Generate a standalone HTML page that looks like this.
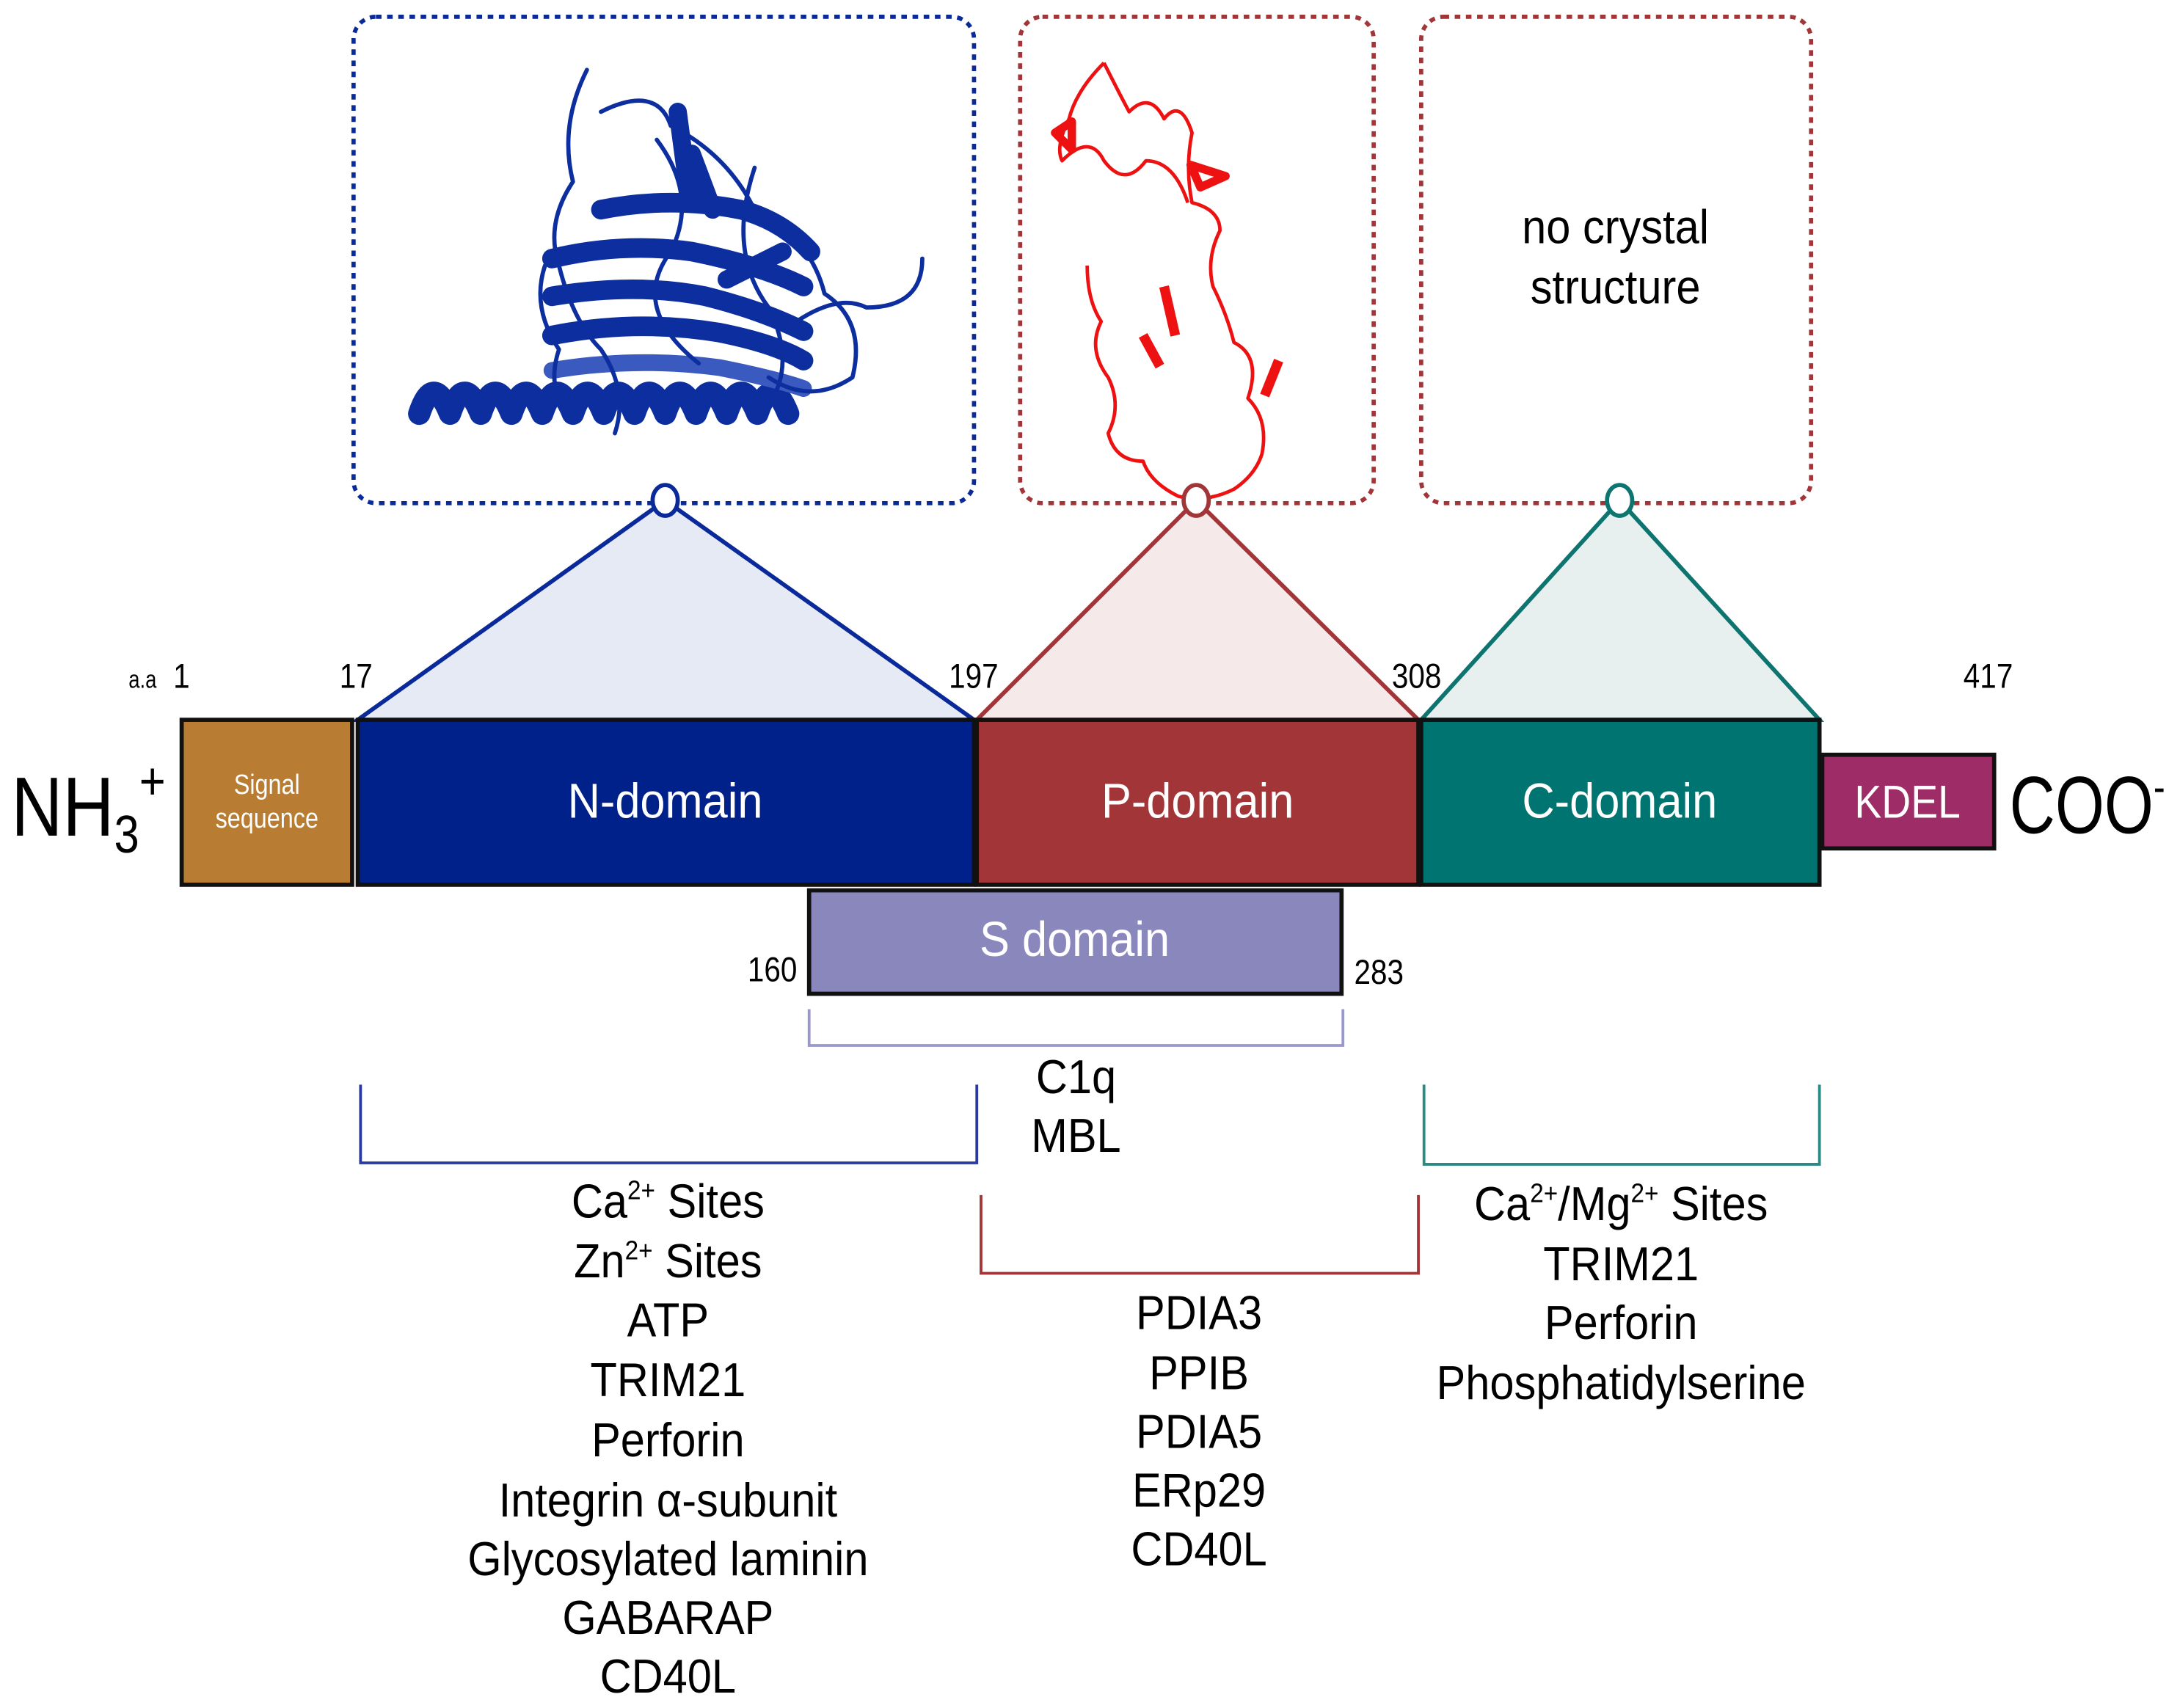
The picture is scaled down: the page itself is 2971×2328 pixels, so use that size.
<!DOCTYPE html>
<html><head><meta charset="utf-8"><style>
html,body{margin:0;padding:0;background:#fff;}
svg{display:block}
text{font-family:"Liberation Sans Narrow","Liberation Sans",sans-serif;}
</style></head><body>
<svg width="2971" height="2328" viewBox="0 0 1560 1222" preserveAspectRatio="none" xmlns="http://www.w3.org/2000/svg">
<rect width="1560" height="1222" fill="#fff"/>
<rect x="253" y="12" width="444" height="348" rx="16" fill="none" stroke="#0a2a9a" stroke-width="3" stroke-dasharray="4 4"/>
<rect x="730" y="12" width="253" height="348" rx="16" fill="none" stroke="#a23538" stroke-width="3" stroke-dasharray="4 4"/>
<rect x="1017" y="12" width="279" height="348" rx="16" fill="none" stroke="#a23538" stroke-width="3" stroke-dasharray="4 4"/>
<g transform="translate(1156,174) scale(0.92,1)"><text font-size="34" text-anchor="middle">no crystal</text></g>
<g transform="translate(1156,217) scale(0.92,1)"><text font-size="34" text-anchor="middle">structure</text></g>
<g fill="none" stroke="#0c2e9e" stroke-linecap="round" stroke-linejoin="round">
<path d="M300 296 q10 -30 22 0 q10 -30 22 0 q10 -30 22 0 q10 -30 22 0 q10 -30 22 0 q10 -30 22 0 q10 -30 22 0 q10 -30 22 0 q10 -30 22 0 q10 -30 22 0 q10 -30 22 0 q10 -30 22 0" stroke-width="16"/>
<path d="M395 185 q50 -12 100 -5 q50 10 80 25" stroke-width="14"/>
<path d="M395 212 q60 -10 110 0 q40 10 70 25" stroke-width="14"/>
<path d="M395 240 q60 -12 120 -2 q40 8 60 20" stroke-width="14"/>
<path d="M395 265 q60 -10 120 -2 q40 8 60 15" stroke-width="12" stroke="#3a5ac0"/>
<path d="M430 150 q50 -10 100 0 q30 8 50 30" stroke-width="14"/>
<path d="M485 80 l8 60 M495 110 l15 40 M520 200 l40 -20" stroke-width="13"/>
<path d="M420 50 q-20 40 -10 80 q-20 30 -10 60 q10 40 30 60 q20 30 10 60" stroke-width="3"/>
<path d="M430 80 q40 -20 50 10 q40 20 60 60 q40 20 50 60 q30 20 20 60 q-30 20 -60 0" stroke-width="3"/>
<path d="M390 190 q-10 30 10 60 q-10 30 10 50 M570 230 q30 -20 50 -10 q40 0 40 -35" stroke-width="3"/>
<path d="M470 100 q30 40 10 80 q-30 40 20 80 M540 120 q-20 60 10 100 q20 40 0 70" stroke-width="3"/>
</g>
<g fill="none" stroke="#ee1111" stroke-width="2.5" stroke-linejoin="round">
<path d="M790 45 q10 20 18 35 q15 -15 25 5 q12 -15 20 10 q-5 25 0 50 q20 5 20 20 q-10 20 -5 40 q10 20 15 40 q20 10 10 40 q15 15 10 40 q-5 15 -20 25 q-20 10 -40 5 q-20 -10 -25 -25 q-20 0 -25 -20 q10 -20 0 -40 q-15 -20 -5 -40 q-10 -15 -10 -40"/>
<path d="M790 45 q-20 20 -25 40 q-10 20 -5 30 q20 -20 30 0 q15 20 30 0 q20 0 30 30"/>
<path d="M755 95 l12 -8 l0 20 z M852 118 l25 8 l-18 8 z" stroke-width="6"/>
<path d="M833 205 l8 35 M818 240 l12 22 M915 258 l-10 25" stroke-width="7"/>
</g>
<polygon points="476,358 256,515 697,515" fill="#e6eaf4" stroke="#0a2a9a" stroke-width="3"/>
<polygon points="856,358 699,515 1015,515" fill="#f6e9e9" stroke="#a23538" stroke-width="3"/>
<polygon points="1159,358 1017,515 1302,515" fill="#e7f0ef" stroke="#0d7470" stroke-width="3"/>
<ellipse cx="476" cy="358" rx="9" ry="11" fill="#fff" stroke="#0a2a9a" stroke-width="3"/>
<ellipse cx="856" cy="358" rx="9" ry="11" fill="#fff" stroke="#a23538" stroke-width="3"/>
<ellipse cx="1159" cy="358" rx="9" ry="11" fill="#fff" stroke="#0d7470" stroke-width="3"/>
<g stroke="#111" stroke-width="3">
<rect x="130" y="515" width="122" height="118" fill="#b87d32"/>
<rect x="256" y="515" width="441" height="118" fill="#00208a"/>
<rect x="699" y="515" width="316" height="118" fill="#a23538"/>
<rect x="1017" y="515" width="285" height="118" fill="#007471"/>
<rect x="1304" y="540" width="123" height="67" fill="#9e2c66"/>
<rect x="579" y="637" width="381" height="74" fill="#8a87bc"/>
</g>
<g fill="#fff" text-anchor="middle">
<g transform="translate(191,568) scale(0.85,1)"><text font-size="20">Signal</text></g>
<g transform="translate(191,592) scale(0.85,1)"><text font-size="20">sequence</text></g>
<g transform="translate(476,585) scale(0.92,1)"><text font-size="35">N-domain</text></g>
<g transform="translate(857,585) scale(0.92,1)"><text font-size="35">P-domain</text></g>
<g transform="translate(1159,585) scale(0.92,1)"><text font-size="35">C-domain</text></g>
<g transform="translate(1365,585) scale(0.88,1)"><text font-size="33">KDEL</text></g>
<g transform="translate(769,684) scale(0.92,1)"><text font-size="35">S domain</text></g>
</g>
<g transform="translate(8,598) scale(0.85,1)"><text font-size="60">NH<tspan font-size="38" dy="12">3</tspan><tspan font-size="38" dy="-38">+</tspan></text></g>
<g transform="translate(1438,596) scale(0.78,1)"><text font-size="58">COO<tspan font-size="32" dy="-22">-</tspan></text></g>
<g font-size="25" fill="#000">
<g transform="translate(92,492) scale(0.8,1)"><text font-size="18">a.a</text></g>
<g transform="translate(124,492) scale(0.85,1)"><text>1</text></g>
<g transform="translate(243,492) scale(0.85,1)"><text>17</text></g>
<g transform="translate(679,492) scale(0.85,1)"><text>197</text></g>
<g transform="translate(996,492) scale(0.85,1)"><text>308</text></g>
<g transform="translate(1405,492) scale(0.85,1)"><text>417</text></g>
<g transform="translate(535,702) scale(0.85,1)"><text>160</text></g>
<g transform="translate(969,704) scale(0.85,1)"><text>283</text></g>
</g>
<g fill="none" stroke-width="2">
<path d="M579 722 V748 H961 V722" stroke="#9a97cc"/>
<path d="M258 776 V832 H699 V776" stroke="#2a3a9e"/>
<path d="M702 855 V911 H1015 V855" stroke="#a23538"/>
<path d="M1019 776 V833 H1302 V776" stroke="#2a8a85"/>
</g>
<g font-size="34" text-anchor="middle" fill="#000">
<g transform="translate(770,782) scale(0.92,1)"><text>C1q</text></g>
<g transform="translate(770,824) scale(0.92,1)"><text>MBL</text></g>
<g transform="translate(478,871) scale(0.92,1)"><text>Ca<tspan font-size="19" dy="-13">2+</tspan><tspan dy="13"> Sites</tspan></text></g>
<g transform="translate(478,914) scale(0.92,1)"><text>Zn<tspan font-size="19" dy="-13">2+</tspan><tspan dy="13"> Sites</tspan></text></g>
<g transform="translate(478,956) scale(0.92,1)"><text>ATP</text></g>
<g transform="translate(478,999) scale(0.92,1)"><text>TRIM21</text></g>
<g transform="translate(478,1042) scale(0.92,1)"><text>Perforin</text></g>
<g transform="translate(478,1085) scale(0.92,1)"><text>Integrin α-subunit</text></g>
<g transform="translate(478,1127) scale(0.92,1)"><text>Glycosylated laminin</text></g>
<g transform="translate(478,1169) scale(0.92,1)"><text>GABARAP</text></g>
<g transform="translate(478,1211) scale(0.92,1)"><text>CD40L</text></g>
<g transform="translate(858,951) scale(0.92,1)"><text>PDIA3</text></g>
<g transform="translate(858,994) scale(0.92,1)"><text>PPIB</text></g>
<g transform="translate(858,1036) scale(0.92,1)"><text>PDIA5</text></g>
<g transform="translate(858,1078) scale(0.92,1)"><text>ERp29</text></g>
<g transform="translate(858,1120) scale(0.92,1)"><text>CD40L</text></g>
<g transform="translate(1160,873) scale(0.92,1)"><text>Ca<tspan font-size="19" dy="-13">2+</tspan><tspan dy="13">/Mg</tspan><tspan font-size="19" dy="-13">2+</tspan><tspan dy="13"> Sites</tspan></text></g>
<g transform="translate(1160,916) scale(0.92,1)"><text>TRIM21</text></g>
<g transform="translate(1160,958) scale(0.92,1)"><text>Perforin</text></g>
<g transform="translate(1160,1001) scale(0.92,1)"><text>Phosphatidylserine</text></g>
</g>
</svg>
</body></html>
